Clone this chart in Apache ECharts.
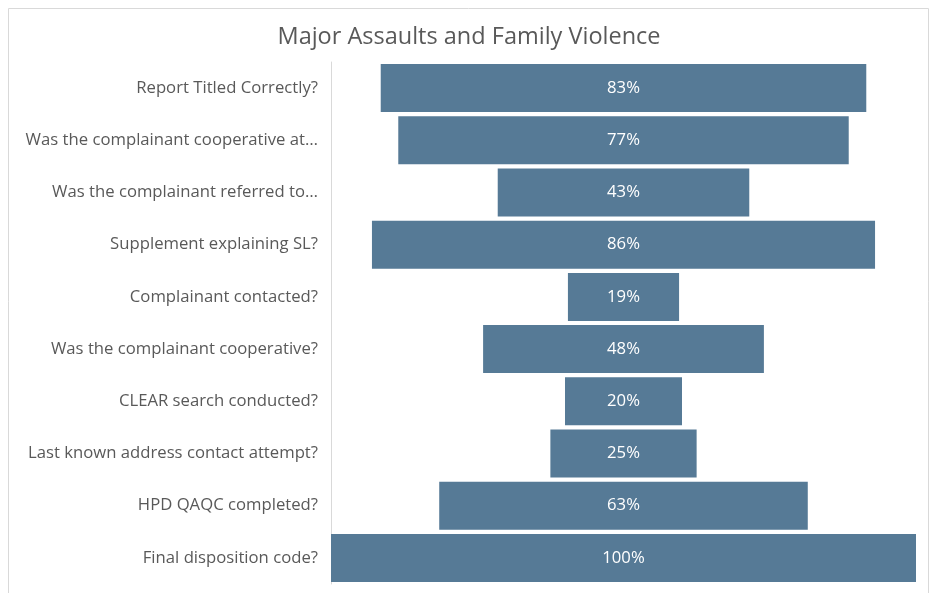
<!DOCTYPE html>
<html>
<head>
<meta charset="utf-8">
<script src="https://cdn.jsdelivr.net/npm/echarts@6/dist/echarts.min.js"></script>
<style>
  html, body { margin: 0; padding: 0; background: #fff; }
  #chart { width: 930px; height: 593px; }
</style>
</head>
<body>
<div id="chart"></div>
<script>
// Funnel-style checklist completion rates
const categories = [
  'Report Titled Correctly?',
  'Was the complainant cooperative at…',
  'Was the complainant referred to…',
  'Supplement explaining SL?',
  'Complainant contacted?',
  'Was the complainant cooperative?',
  'CLEAR search conducted?',
  'Last known address contact attempt?',
  'HPD QAQC completed?',
  'Final disposition code?'
];
const percentValues = [83, 77, 43, 86, 19, 48, 20, 25, 63, 100];

// Invisible leading segment centres each bar on the axis
const offsets = percentValues.map(v => (100 - v) / 2);

const chart = echarts.init(document.getElementById('chart'));
const fontFamily = '"Open Sans", "Noto Sans", sans-serif';

chart.setOption({
  animation: false,
  title: {
    text: 'Major Assaults and Family Violence',
    left: 464,
    textAlign: 'center',
    top: 20,
    textStyle: { fontFamily, fontSize: 23.5, fontWeight: 'normal', color: '#595959' }
  },
  graphic: [{
    type: 'rect',
    shape: { x: 8.5, y: 8.5, width: 920, height: 600 },
    style: { fill: 'none', stroke: '#d9d9d9', lineWidth: 1 },
    silent: true
  }],
  grid: { left: 331, right: 14, top: 62, bottom: 9, containLabel: false },
  xAxis: {
    type: 'value', min: 0, max: 100, show: false
  },
  yAxis: {
    type: 'category',
    data: categories,
    inverse: true,
    axisLine: { show: true, lineStyle: { color: '#d9d9d9', width: 1 } },
    axisTick: { show: false },
    axisLabel: {
      fontFamily, fontSize: 16.7, color: '#595959', margin: 13,
      padding: [6, 0, 0, 0]
    }
  },
  series: [
    {
      type: 'bar', stack: 'f', data: offsets,
      itemStyle: { color: 'transparent' },
      barCategoryGap: '8%', silent: true
    },
    {
      type: 'bar', stack: 'f', data: percentValues,
      itemStyle: { color: '#567A96' },
      barCategoryGap: '8%',
      label: {
        show: true, position: 'inside',
        formatter: p => p.value + '%',
        fontFamily, fontSize: 16.7, color: '#ffffff',
        padding: [6, 0, 0, 0]
      }
    }
  ]
});
</script>
</body>
</html>
